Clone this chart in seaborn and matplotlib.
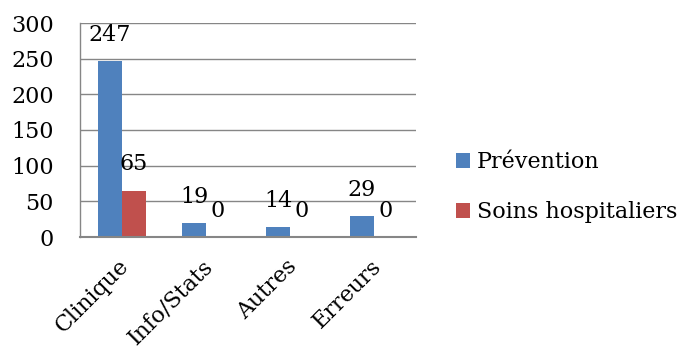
import matplotlib
matplotlib.use("Agg")
import matplotlib.pyplot as plt
import matplotlib.transforms as mtransforms
import seaborn as sns
import pandas as pd

categories = ["Clinique", "Info/Stats", "Autres", "Erreurs"]
series_names = ["Prévention", "Soins hospitaliers"]
prevention = [247, 19, 14, 29]
soins = [65, 0, 0, 0]
y_ticks = [0, 50, 100, 150, 200, 250, 300]
colors = ["#4F81BD", "#C0504D"]

df = pd.DataFrame({
    "categorie": categories * 2,
    "serie": [series_names[0]] * len(categories) + [series_names[1]] * len(categories),
    "valeur": prevention + soins,
})

sns.set_theme(style="white")
plt.rcParams["font.family"] = ["DejaVu Serif", "Liberation Serif"]
plt.rcParams["text.color"] = "black"
FS = 16

fig = plt.figure(figsize=(6.8, 3.49), dpi=100)
ax = fig.add_axes([80 / 680, 1 - 237 / 349, 336 / 680, 214 / 349])

sns.barplot(data=df, x="categorie", y="valeur", hue="serie",
            order=categories, hue_order=series_names,
            palette=colors, width=0.5714, gap=0, saturation=1,
            edgecolor="none", linewidth=0, ax=ax, legend=True)

ax.set_ylim(0, 300)
ax.set_yticks(y_ticks)
ax.yaxis.grid(True, color="#868686", linewidth=1.0)
ax.set_axisbelow(True)
ax.set_xlabel("")
ax.set_ylabel("")

for side in ["top", "right"]:
    ax.spines[side].set_visible(False)
ax.spines["left"].set_color("#868686")
ax.spines["left"].set_linewidth(1.0)
ax.spines["bottom"].set_color("#868686")
ax.spines["bottom"].set_linewidth(1.5)

ax.tick_params(axis="y", length=0, pad=19, labelsize=FS, labelcolor="black")
ax.tick_params(axis="x", length=0, pad=13, labelsize=FS, labelcolor="black")
shift = mtransforms.ScaledTranslation(-4 / 100, 0, fig.dpi_scale_trans)
for lab in ax.get_xticklabels():
    lab.set_rotation(45)
    lab.set_ha("right")
    lab.set_rotation_mode("anchor")
    lab.set_transform(lab.get_transform() + shift)

for cont, vals in zip(ax.containers, [prevention, soins]):
    ax.bar_label(cont, labels=[str(v) for v in vals], padding=11, fontsize=FS, color="black")

handles, labels = ax.get_legend_handles_labels()
leg = ax.legend(handles, labels, loc="center left", bbox_to_anchor=(456 / 680, 1 - 187 / 349),
                bbox_transform=fig.transFigure, frameon=False, fontsize=FS,
                handlelength=0.65, handleheight=0.65, handletextpad=0.3,
                labelspacing=1.25, borderaxespad=0, borderpad=0)
for t in leg.get_texts():
    t.set_color("black")

fig.savefig("out.png", dpi=100)
